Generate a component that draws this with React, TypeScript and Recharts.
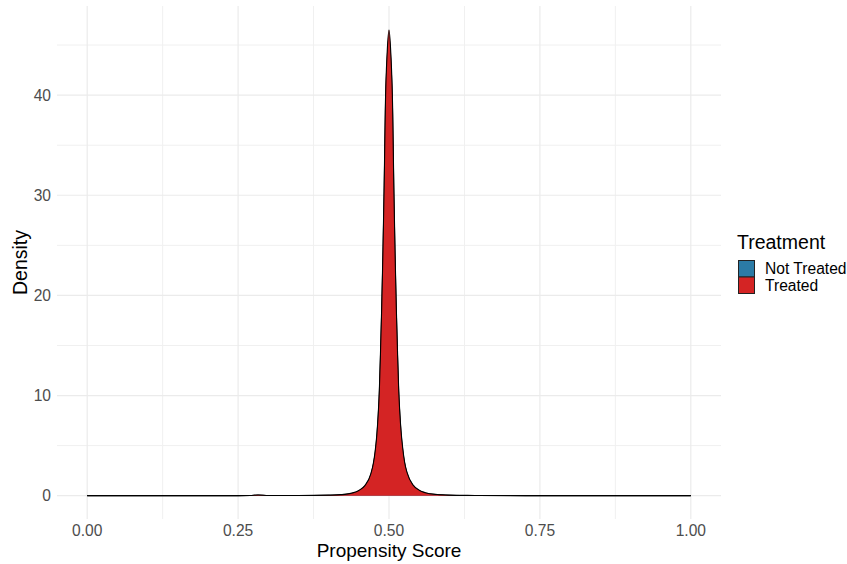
import React from "react";
import {
  ComposedChart,
  Area,
  XAxis,
  YAxis,
  CartesianGrid,
  Label,
} from "recharts";

// propensity score grid (denser around the peak at 0.5)
const scores = [
  0, 0.05, 0.1, 0.15, 0.2, 0.25, 0.27, 0.283, 0.3, 0.35, 0.4, 0.42, 0.44, 0.45,
  0.46, 0.47, 0.474, 0.477, 0.48, 0.482, 0.484, 0.486, 0.488, 0.49, 0.492, 0.494,
  0.497, 0.5, 0.503, 0.506, 0.508, 0.51, 0.512, 0.514, 0.516, 0.518, 0.52, 0.523,
  0.526, 0.53, 0.54, 0.55, 0.56, 0.58, 0.6, 0.63, 0.65, 0.7, 0.75, 0.8, 0.85, 0.9,
  0.95, 1,
];

// density, Treated group (drawn on top)
const treatedDensity = [
  0, 0, 0, 0, 0.002, 0.005, 0.02, 0.07, 0.02, 0.012, 0.05, 0.1, 0.28, 0.52,
  1.0, 2.2, 3.2, 4.4, 6.2, 8, 10.5, 14.5, 19, 24.5, 31, 39,
  44.3, 46.5, 44.2, 38.8, 30.8, 24.4, 19, 14.6, 10.7, 8.2, 6.4, 4.6,
  3.3, 2.3, 1.05, 0.55, 0.3, 0.11, 0.05, 0.025, 0.02, 0.01, 0.004, 0.002, 0, 0,
  0, 0,
];

// Not Treated group, hidden almost completely behind the red one
const notTreatedDensity = [
  0, 0, 0, 0, 0.001, 0.004, 0.015, 0.06, 0.015, 0.01, 0.04, 0.09, 0.25, 0.48,
  0.95, 2.1, 3.1, 4.2, 6, 7.8, 10.2, 14.1, 18.6, 24, 30.4, 38.3,
  43.6, 45.8, 43.5, 38.1, 30.2, 23.9, 18.6, 14.2, 10.4, 8, 6.2, 4.4,
  3.2, 2.2, 1.0, 0.5, 0.27, 0.1, 0.04, 0.02, 0.015, 0.008, 0.003, 0.001, 0, 0,
  0, 0,
];

const xTicks = [0, 0.25, 0.5, 0.75, 1];
const xMinor = [0.125, 0.375, 0.625, 0.875];
const yTicks = [0, 10, 20, 30, 40];
const yMinor = [5, 15, 25, 35, 45];

const groups = [
  { name: "Not Treated", color: "#2B7BA6" },
  { name: "Treated", color: "#D42424" },
];

const data = scores.map((x, i) => ({
  x,
  notTreated: notTreatedDensity[i],
  treated: treatedDensity[i],
}));

const FONT = "'Liberation Sans', Arial, sans-serif";
const tickStyle = { fill: "#4D4D4D", fontSize: 15.6, fontFamily: FONT };

function LegendBox() {
  return (
    <svg
      width={115}
      height={75}
      style={{ position: "absolute", left: 732, top: 225, fontFamily: FONT }}
    >
      <text x={5} y={24} fontSize={19.5} fill="#000">
        Treatment
      </text>
      {groups.map((g, i) => (
        <g key={g.name}>
          <rect
            x={6.5}
            y={35.5 + i * 16.5}
            width={16}
            height={16.5}
            fill={g.color}
            stroke="#222"
            strokeWidth={1}
          />
          <text x={33} y={49 + i * 16.5} fontSize={15.6} fill="#000">
            {g.name}
          </text>
        </g>
      ))}
    </svg>
  );
}

export default function App() {
  return (
    <div
      style={{
        position: "absolute",
        left: 0,
        top: 0,
        width: 847,
        height: 564,
        background: "#fff",
        fontFamily: FONT,
      }}
    >
      <ComposedChart
        width={847}
        height={564}
        data={data}
        margin={{ top: 6, right: 126, left: 0, bottom: 0 }}
      >
        <CartesianGrid
          horizontalValues={yMinor}
          verticalValues={xMinor}
          stroke="#F0F0F0"
          strokeWidth={1}
        />
        <CartesianGrid
          horizontalValues={yTicks}
          verticalValues={xTicks}
          stroke="#EBEBEB"
          strokeWidth={1.2}
        />
        <XAxis
          type="number"
          dataKey="x"
          domain={[-0.05, 1.05]}
          ticks={xTicks}
          tickFormatter={(v: number) => v.toFixed(2)}
          axisLine={false}
          tickLine={false}
          tickSize={0}
          tickMargin={6}
          tick={tickStyle}
          height={45}
          allowDataOverflow
          interval={0}
        >
          <Label
            value="Propensity Score"
            position="insideBottom"
            offset={7}
            style={{ fontSize: 19, fill: "#000", fontFamily: FONT }}
          />
        </XAxis>
        <YAxis
          type="number"
          domain={[-2.33, 48.9]}
          ticks={yTicks}
          axisLine={false}
          tickLine={false}
          tickSize={0}
          tickMargin={6}
          tick={tickStyle}
          width={57}
          allowDataOverflow
          interval={0}
        >
          <Label
            value="Density"
            angle={-90}
            position="insideLeft"
            offset={20}
            style={{
              fontSize: 19.5,
              fill: "#000",
              fontFamily: FONT,
              textAnchor: "middle",
            }}
          />
        </YAxis>
        <Area
          type="monotone"
          dataKey="notTreated"
          fill={groups[0].color}
          fillOpacity={1}
          stroke="#000"
          strokeWidth={1.1}
          isAnimationActive={false}
          dot={false}
          activeDot={false}
        />
        <Area
          type="monotone"
          dataKey="treated"
          fill={groups[1].color}
          fillOpacity={1}
          stroke="#000"
          strokeWidth={1.1}
          isAnimationActive={false}
          dot={false}
          activeDot={false}
        />
      </ComposedChart>
      <LegendBox />
    </div>
  );
}
